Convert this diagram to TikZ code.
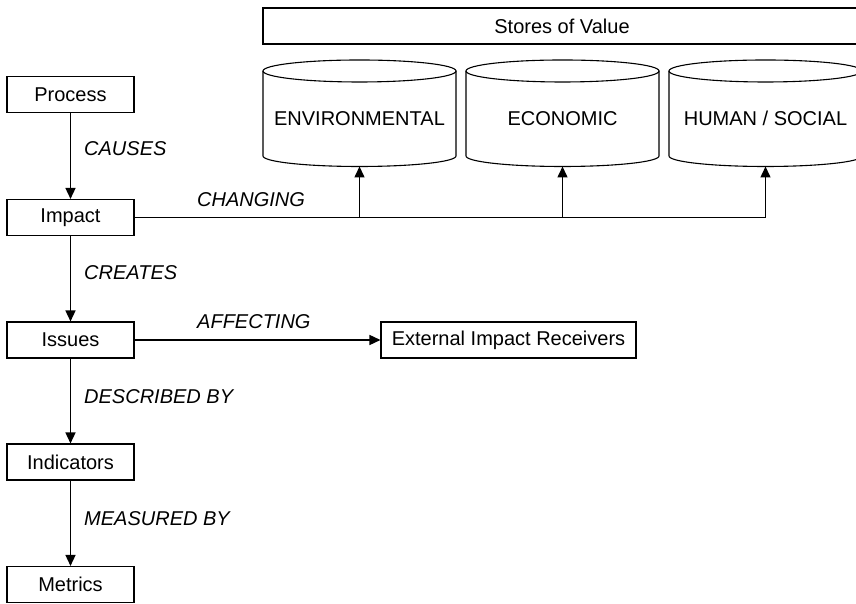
\documentclass[tikz,border=0pt]{standalone}
\usepackage{fontspec}
\setmainfont{Liberation Sans}
\usetikzlibrary{arrows.meta}

\begin{document}
\begin{tikzpicture}
[x=1pt,y=1pt,%
  box/.style={draw,line width=1.1pt,minimum width=127pt,minimum height=36pt,inner sep=0pt},%
  lbl/.style={anchor=west,inner sep=0pt,font=\itshape},%
  arr/.style={-{Triangle[length=11pt,width=10pt]},line width=1.5pt}]
\fontsize{20}{24}\selectfont
\useasboundingbox (0,0) rectangle (856,604);
\clip (0,0) rectangle (856,604);
\node[box,minimum width=598pt] (stores) at (562,578) {Stores of Value};
\foreach \n/\x/\t in {env/263/ENVIRONMENTAL,eco/466/ECONOMIC,hum/669/{HUMAN / SOCIAL}} {
  \draw[line width=1.1pt] (\x+96.5,533) ellipse (96.5pt and 11pt);
  \draw[line width=1.1pt] (\x,533) -- (\x,448)
    arc[start angle=180,end angle=360,x radius=96.5pt,y radius=10.5pt] -- (\x+193,533);
  \node (\n) at (\x+96.5,485.5) {\t};
  \coordinate (\n-b) at (\x+96.5,437.5);
}
\node[box] (proc) at (70.5,509.5) {Process};
\node[box] (imp) at (70.5,386.5) {Impact};
\node[box] (iss) at (70.5,264) {Issues};
\node[box] (ind) at (70.5,142) {Indicators};
\node[box] (met) at (70.5,19.5) {Metrics};
\node[box,minimum width=255pt] (ext) at (508.5,264) {External Impact Receivers};
\node[lbl] (causes) at (84,455.5) {CAUSES};
\node[lbl] (creates) at (84,331) {CREATES};
\node[lbl] (descr) at (84,207) {DESCRIBED BY};
\node[lbl] (meas) at (84,85) {MEASURED BY};
\node[lbl] (chg) at (197,404) {CHANGING};
\node[lbl] (aff) at (197,282) {AFFECTING};
\draw[arr] (proc) -- (imp);
\draw[arr] (imp) -- (iss);
\draw[arr] (iss) -- (ind);
\draw[arr] (ind) -- (met);
\draw[arr] (iss) -- (ext);
\draw[line width=1.5pt] (imp.east) -- (hum-b |- imp.east);
\foreach \n in {env,eco,hum}
  \draw[arr] (\n-b |- imp.east) -- (\n-b);
\end{tikzpicture}
\end{document}
